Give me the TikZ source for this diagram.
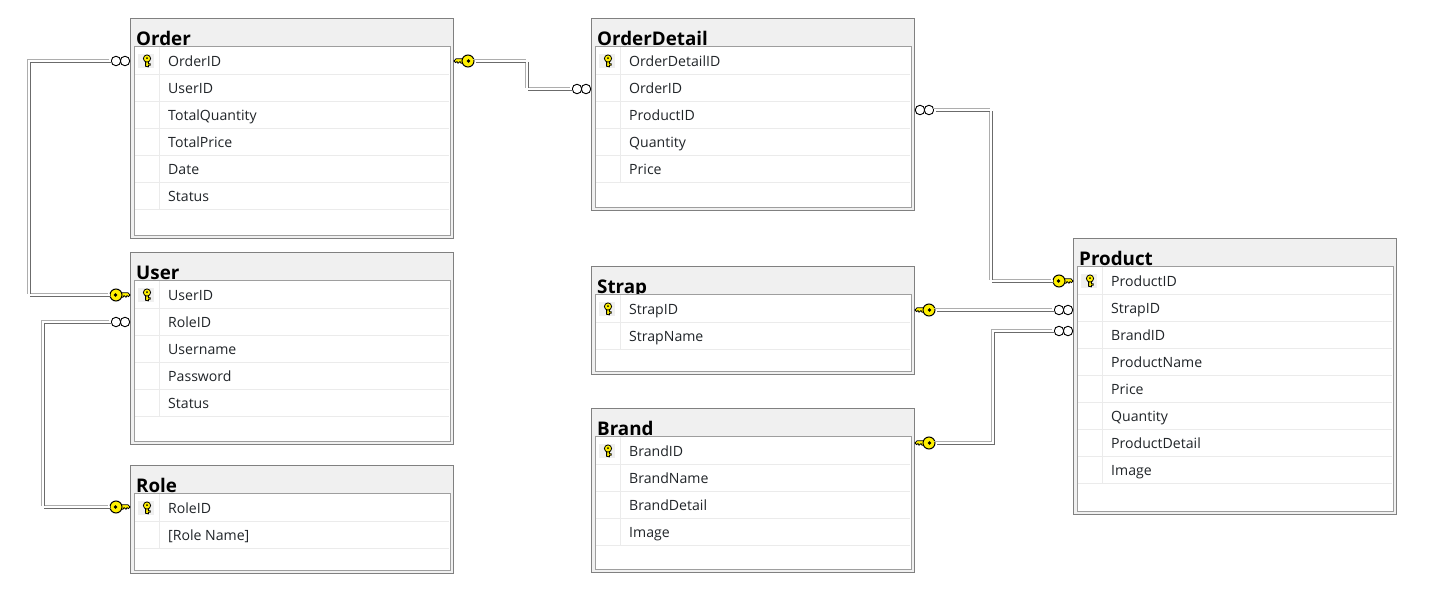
\documentclass[tikz,border=0pt]{standalone}
\usepackage{fontspec}
\setmainfont{Open Sans}
\usetikzlibrary{positioning}

\definecolor{titlegray}{HTML}{F0F0F0}
\definecolor{keyyellow}{HTML}{FFF000}
\definecolor{rowtextcol}{HTML}{202428}

\tikzset{
  tablebox/.style={rectangle,draw=black!50,line width=1.3pt,fill=titlegray,minimum width=322.8pt,anchor=north west,inner sep=0},
  innerbox/.style={rectangle,draw=black!38,line width=1pt,fill=white,minimum width=316pt,anchor=north west,inner sep=0},
  titletext/.style={anchor=base west,inner sep=0,font=\fontsize{18.8}{20}\selectfont\bfseries},
  rowtext/.style={anchor=west,inner sep=0,text=rowtextcol,text height=11pt,text depth=3pt,font=\fontsize{14.1}{15}\selectfont},
  rowline/.style={draw=black!8,line width=1pt},
  keycell/.style={rectangle,fill=black!6,minimum width=16pt,minimum height=14pt,inner sep=0},
  relation/.style={draw=white,line width=1.2pt,
    preaction={draw=black!32,line width=1.7pt,transform canvas={shift={(-1.5pt,1.5pt)}}},
    preaction={draw=black!58,line width=1.7pt,transform canvas={shift={(1.5pt,-1.5pt)}}}},
  ringnode/.style={circle,draw=black,fill=white,line width=0.9pt,minimum size=9.5pt,inner sep=0},
  rowkey/.pic={
    \filldraw[fill=keyyellow,draw=black,line width=0.8pt] (-1.4,-1) -- (-1.4,4.8) -- (1.4,5.3) -- (1.4,3.8) -- (3.2,3.8) -- (3.2,2.2) -- (1.4,2.2) -- (1.4,-1) -- cycle;
    \filldraw[fill=keyyellow,draw=black,line width=0.8pt] (0,-3) circle (3.6);
    \fill[black] (0,-3.4) circle (1);
  },
  keyend/.pic={
    \filldraw[fill=keyyellow,draw=black,line width=0.8pt] (-11,-2.2) -- (-2,-2.2) -- (0,0) -- (-1.5,1.6) -- (-3,0.6) -- (-4,2.2) -- (-6,0.6) -- (-7,2.2) -- (-11,2.2) -- cycle;
    \node[circle,fill=keyyellow,draw=black,line width=1pt,minimum size=12pt,inner sep=0] (-end) at (-14,0) {};
    \fill[black] (-14.5,0) circle (1.9);
  },
  ringend/.pic={
    \node[ringnode] (-near) at (-5,0) {};
    \node[ringnode] (-end) at (-14,0) {};
  }
}

\newcommand{\dbtable}[6]{
  \node[tablebox,minimum height=#4pt] (#1) at (#2-1.2,#3) {};
  \node[titletext] (#1-title) at (#2+5,#3+27) {#5};
  \node[innerbox,minimum height=#4pt-31pt] (#1-inner) at (#2+3,#3+28) {};
  \foreach \rowname [count=\i] in {#6} {
    \node[rowtext] (#1-\i) at (#2+37,#3+17+27*\i) {\rowname};
    \draw[rowline] (#2+4,#3+29+27*\i) -- (#2+318,#3+29+27*\i);
    \draw[rowline] (#2+28,#3+2+27*\i) -- (#2+28,#3+29+27*\i);
  }
  \node[keycell] (#1-keycell) at (#2+15,#3+43) {};
  \pic at (#2+16,#3+43.5) {rowkey};
}

\begin{document}
\begin{tikzpicture}[x=1pt,y=-1pt]

\useasboundingbox (0,0) rectangle (1438,597);

\dbtable{order}{131}{18}{220}{Order}{OrderID,UserID,TotalQuantity,TotalPrice,Date,Status}
\dbtable{detail}{592}{18}{192}{OrderDetail}{OrderDetailID,OrderID,ProductID,Quantity,Price}
\dbtable{user}{131}{252}{192}{User}{UserID,RoleID,Username,Password,Status}
\dbtable{role}{131}{465}{108}{Role}{RoleID,{[Role Name]}}
\dbtable{strap}{592}{266}{108}{Strap}{StrapID,StrapName}
\dbtable{brand}{592}{408}{164}{Brand}{BrandID,BrandName,BrandDetail,Image}
\dbtable{product}{1074}{238}{276}{Product}{ProductID,StrapID,BrandID,ProductName,Price,Quantity,ProductDetail,Image}

% line ends
\pic (orderring) at (130,61) {ringend};
\pic (userkey) at (130,295) {keyend};
\pic (userring) at (130,322) {ringend};
\pic (rolekey) at (130,507) {keyend};
\pic[xscale=-1] (orderkey) at (454,61) {keyend};
\pic (detailring) at (591,89) {ringend};
\pic[xscale=-1] (detailout) at (915,110) {ringend};
\pic (productkey) at (1073,281) {keyend};
\pic[xscale=-1] (strapkey) at (915,310) {keyend};
\pic (strapring) at (1073,310) {ringend};
\pic[xscale=-1] (brandkey) at (915,443) {keyend};
\pic (brandring) at (1073,331) {ringend};

% bends
\coordinate (bendA) at (29,0);
\coordinate (bendB) at (43,0);
\coordinate (bendC) at (527,0);
\coordinate (bendD) at (991,0);
\coordinate (bendE) at (993,0);

\draw[relation] (orderring-end.west) -- (orderring-end.west -| bendA) -- (userkey-end.west -| bendA) -- (userkey-end.west);
\draw[relation] (userring-end.west) -- (userring-end.west -| bendB) -- (rolekey-end.west -| bendB) -- (rolekey-end.west);
\draw[relation] (orderkey-end.east) -- (orderkey-end.east -| bendC) -- (detailring-end.west -| bendC) -- (detailring-end.west);
\draw[relation] (detailout-end.east) -- (detailout-end.east -| bendD) -- (productkey-end.west -| bendD) -- (productkey-end.west);
\draw[relation] (strapkey-end.east) -- (strapring-end.west);
\draw[relation] (brandkey-end.east) -- (brandkey-end.east -| bendE) -- (brandring-end.west -| bendE) -- (brandring-end.west);

\end{tikzpicture}
\end{document}
